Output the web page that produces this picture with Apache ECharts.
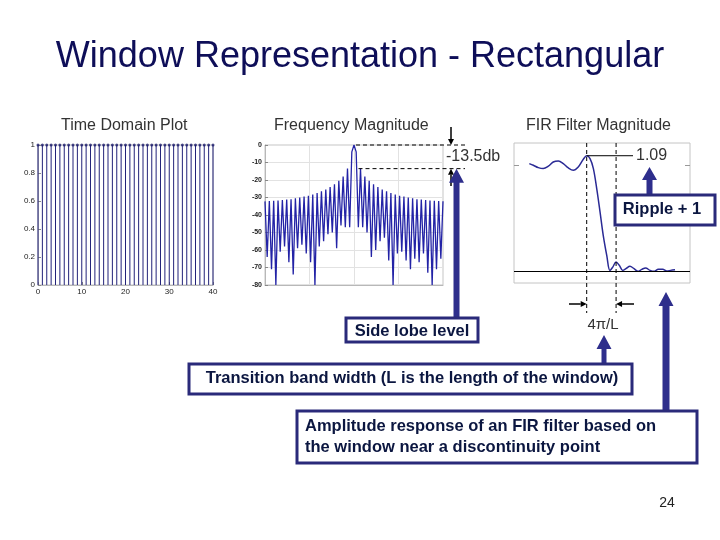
<!DOCTYPE html>
<html>
<head>
<meta charset="utf-8">
<script src="https://cdn.jsdelivr.net/npm/echarts@6/dist/echarts.min.js"></script>
<style>
  html, body { margin: 0; padding: 0; background: #fff; }
  #main { width: 720px; height: 540px; }
</style>
</head>
<body>
<div id="main"></div>
<script>
// rectangular window w[n], n = 0..40
const windowVals = [1,1,1,1,1,1,1,1,1,1,1,1,1,1,1,1,1,1,1,1,1,1,1,1,1,1,1,1,1,1,1,1,1,1,1,1,1,1,1,1,1];

// frequency magnitude in dB, half-lobe steps (1/41 of pi)
// left half: from -pi up to just before 0
const magLeft = [-32.2,-64,-32,-71,-31.9,-80,-31.7,-61,-31.5,-58,-31.2,-67,-31,-74,-30.5,-59,-30,-57,-29.5,-62,
  -29,-67,-28.3,-80,-27.5,-58,-26.5,-55,-25.5,-51,-24,-50,-22.5,-59,-20.5,-46,-18,-47,-13.5,-47,-3.9];
// right half: from 0 to pi
const magRight = [0,-3.9,-47,-13.5,-47,-18,-50,-20.5,-64,-22.5,-60,-24,-55,-25.5,-53,-26.5,-66,-27.5,-80,-28.3,
  -62,-29,-61,-29.5,-66,-30,-71,-30.5,-65,-31,-67,-31.2,-62,-31.5,-73,-31.7,-80,-31.9,-71,-32,-65,-32.2];
const sideLobeDb = -13.5;

// FIR amplitude response near the discontinuity
const firX = [0.087,0.110,0.138,0.166,0.195,0.223,0.252,0.280,0.309,0.337,0.365,0.394,0.413,0.432,0.451,
  0.470,0.489,0.507,0.527,0.545,0.561,0.580,0.598,0.618,0.636,0.659,0.682,0.705,0.726,0.748,0.773,0.795,
  0.820,0.845,0.868,0.890,0.915];
const firY = [1.016,1.0,0.978,0.969,0.991,1.031,1.041,1.016,0.975,0.953,0.984,1.057,1.09,1.063,0.969,
  0.78,0.559,0.34,0.151,0.009,0.04,0.088,0.057,0.009,0.025,0.047,0.025,0.0,0.019,0.031,0.009,0.0,
  0.019,0.019,0.003,0.009,0.016];
const firPeak = 1.09;
const firEdges = [0.413, 0.58];

const FONT = '"Liberation Sans", Arial, sans-serif';
const NAVY = '#2e2e8c';
const BOXTXT = '#0b1640';

const magDb = magLeft.concat(magRight);
const half = magLeft.length;

const chart = echarts.init(document.getElementById('main'));

const tinyLabel = { fontSize: 8, color: '#222', fontFamily: FONT, margin: 3 };
const frameLine = { show: true, onZero: false, lineStyle: { color: '#b8b8b8' } };

chart.setOption({
  backgroundColor: '#fff',
  animation: false,
  grid: [
    { left: 38, top: 145, width: 175, height: 140, show: true, borderColor: '#c4c4c4' },
    { left: 265, top: 145, width: 178, height: 140, show: true, borderColor: '#c4c4c4' },
    { left: 514, top: 143, width: 176, height: 140, show: true, borderColor: '#c4c4c4' }
  ],
  xAxis: [
    { gridIndex: 0, type: 'value', min: 0, max: 40, interval: 10,
      axisLine: frameLine, axisTick: { inside: true, length: 3, lineStyle: { color: '#888' } },
      axisLabel: tinyLabel, splitLine: { show: false } },
    { gridIndex: 1, type: 'value', min: -1, max: 1, interval: 0.5,
      axisLine: frameLine, axisTick: { show: false }, axisLabel: { show: false },
      splitLine: { show: true, lineStyle: { color: '#e2e2e2' } } },
    { gridIndex: 2, type: 'value', min: 0, max: 1, show: false }
  ],
  yAxis: [
    { gridIndex: 0, type: 'value', min: 0, max: 1, interval: 0.2,
      axisLine: frameLine, axisTick: { show: true, inside: true, length: 3, lineStyle: { color: '#888' } },
      axisLabel: tinyLabel, splitLine: { show: false } },
    { gridIndex: 1, type: 'value', min: -80, max: 0, interval: 10,
      axisLine: frameLine, axisTick: { show: true, inside: true, length: 3, lineStyle: { color: '#888' } },
      axisLabel: { fontSize: 7, fontWeight: 'bold', color: '#222', fontFamily: FONT, margin: 3 },
      splitLine: { show: true, lineStyle: { color: '#e2e2e2' } } },
    { gridIndex: 2, type: 'value', min: -0.11, max: 1.21,
      axisLine: { show: false, onZero: false }, axisLabel: { show: false }, splitLine: { show: false },
      axisTick: { show: true, inside: true, length: 5, customValues: [1], lineStyle: { color: '#999' } } },
    { gridIndex: 2, type: 'value', min: -0.11, max: 1.21, position: 'right',
      axisLine: { show: false, onZero: false }, axisLabel: { show: false }, splitLine: { show: false },
      axisTick: { show: true, inside: true, length: 5, customValues: [1], lineStyle: { color: '#999' } } }
  ],
  series: [
    { type: 'bar', xAxisIndex: 0, yAxisIndex: 0, barWidth: 1, silent: true,
      itemStyle: { color: '#23237a' },
      data: windowVals.map((v, n) => [n, v]) },
    { type: 'scatter', xAxisIndex: 0, yAxisIndex: 0, symbolSize: 3, silent: true,
      itemStyle: { color: '#1c1c6c' },
      data: windowVals.map((v, n) => [n, v]) },
    { type: 'line', xAxisIndex: 1, yAxisIndex: 1, showSymbol: false, silent: true,
      lineStyle: { color: '#2323a6', width: 1.3 },
      data: magDb.map((v, i) => [(i - half) / half, v]) },
    { type: 'line', xAxisIndex: 2, yAxisIndex: 2, showSymbol: false, silent: true, smooth: 0.35,
      lineStyle: { color: '#2a2a95', width: 1.5 },
      data: firX.map((x, i) => [x, firY[i]]),
      markLine: { silent: true, symbol: 'none', label: { show: false },
        lineStyle: { color: '#000', type: 'solid', width: 1 },
        data: [{ yAxis: 0 }] } }
  ]
});

// ---- annotations, placed from the axes ----
function arrowUp(cx, tipY, baseY, shaftW, headW, headH) {
  return [[cx, tipY], [cx + headW / 2, tipY + headH], [cx + shaftW / 2, tipY + headH],
    [cx + shaftW / 2, baseY], [cx - shaftW / 2, baseY], [cx - shaftW / 2, tipY + headH],
    [cx - headW / 2, tipY + headH]];
}
function blueArrow(cx, tipY, baseY, shaftW, headW, headH) {
  return { type: 'polygon', z: 10, shape: { points: arrowUp(cx, tipY, baseY, shaftW, headW, headH) },
    style: { fill: NAVY } };
}
function blackArrow(x1, y1, x2, y2) {
  // small line with filled head at (x2, y2)
  const dx = x2 - x1, dy = y2 - y1, len = Math.sqrt(dx * dx + dy * dy);
  const ux = dx / len, uy = dy / len, hl = 6, hw = 3;
  const bx = x2 - ux * hl, by = y2 - uy * hl;
  return [
    { type: 'line', z: 8, shape: { x1: x1, y1: y1, x2: bx, y2: by }, style: { stroke: '#000', lineWidth: 1.5 } },
    { type: 'polygon', z: 8, shape: { points: [[x2, y2], [bx - uy * hw, by + ux * hw], [bx + uy * hw, by - ux * hw]] },
      style: { fill: '#000' } }
  ];
}
function dashed(x1, y1, x2, y2) {
  return { type: 'line', z: 7, shape: { x1: x1, y1: y1, x2: x2, y2: y2 },
    style: { stroke: '#000', lineWidth: 1, lineDash: [4, 3] } };
}
function box(x, y, w, h) {
  return { type: 'rect', z: 20, shape: { x: x, y: y, width: w, height: h },
    style: { fill: '#fff', stroke: '#2a2a7a', lineWidth: 3 } };
}
function txt(s, x, y, size, opts) {
  opts = opts || {};
  return { type: 'text', z: 30, style: {
    text: s, x: x, y: y, fill: opts.fill || '#333', align: opts.align || 'left',
    verticalAlign: 'middle',
    font: (opts.bold ? 'bold ' : '') + size + 'px ' + FONT } };
}

const pPeak = chart.convertToPixel({ xAxisIndex: 1, yAxisIndex: 1 }, [0, 0]);
const pSide = chart.convertToPixel({ xAxisIndex: 1, yAxisIndex: 1 }, [3 / half, sideLobeDb]);
const firPeakIdx = firY.indexOf(firPeak);
const pFir = chart.convertToPixel({ xAxisIndex: 2, yAxisIndex: 2 }, [firX[firPeakIdx], firPeak]);
const e1 = chart.convertToPixel({ xAxisIndex: 2, yAxisIndex: 2 }, [firEdges[0], 0]);
const e2 = chart.convertToPixel({ xAxisIndex: 2, yAxisIndex: 2 }, [firEdges[1], 0]);
const firTop = 143;

let g = [
  txt('Window Representation - Rectangular', 360, 57, 36, { align: 'center', fill: '#0e0e58' }),
  txt('Time Domain Plot', 61, 126, 16),
  txt('Frequency Magnitude', 274, 126, 16),
  txt('FIR Filter Magnitude', 526, 126, 16),
  // side lobe markers
  dashed(pPeak[0] + 2, pPeak[1], 465, pPeak[1]),
  dashed(pSide[0] - 2, pSide[1], 465, pSide[1]),
  txt('-13.5db', 446, 157, 16),
  // FIR markers
  dashed(e1[0], firTop, e1[0], 313),
  dashed(e2[0], firTop, e2[0], 313),
  { type: 'line', z: 7, shape: { x1: pFir[0], y1: pFir[1], x2: 633, y2: pFir[1] }, style: { stroke: '#000', lineWidth: 1 } },
  txt('1.09', 636, 156, 16),
  txt('4\u03c0/L', 603, 325, 15, { align: 'center' }),
  // blue arrows
  blueArrow(456.5, pSide[1], 320, 6, 15, 14),
  blueArrow(604, 335, 366, 5, 15, 14),
  blueArrow(649.5, 167, 197, 6, 15, 13),
  blueArrow(666, 292, 413, 7, 15, 14),
  // boxes
  box(346, 318, 132, 24),
  txt('Side lobe level', 412, 331, 16.5, { align: 'center', bold: true, fill: BOXTXT }),
  box(189, 364, 443, 30),
  txt('Transition band width (L is the length of the window)', 412, 378, 16.5, { align: 'center', bold: true, fill: BOXTXT }),
  box(615, 195, 100, 30),
  txt('Ripple + 1', 662, 209, 16.5, { align: 'center', bold: true, fill: BOXTXT }),
  box(297, 411, 400, 52),
  txt('Amplitude response of an FIR filter based on', 305, 426, 16.5, { bold: true, fill: BOXTXT }),
  txt('the window near a discontinuity point', 305, 447, 16.5, { bold: true, fill: BOXTXT }),
  txt('24', 667, 503, 14, { align: 'center', fill: '#222' })
];
g = g.concat(blackArrow(451, 127, 451, pPeak[1]));
g = g.concat(blackArrow(451, 186, 451, pSide[1]));
g = g.concat(blackArrow(569, 304, e1[0], 304));
g = g.concat(blackArrow(634, 304, e2[0], 304));

chart.setOption({ graphic: g });
</script>
</body>
</html>
